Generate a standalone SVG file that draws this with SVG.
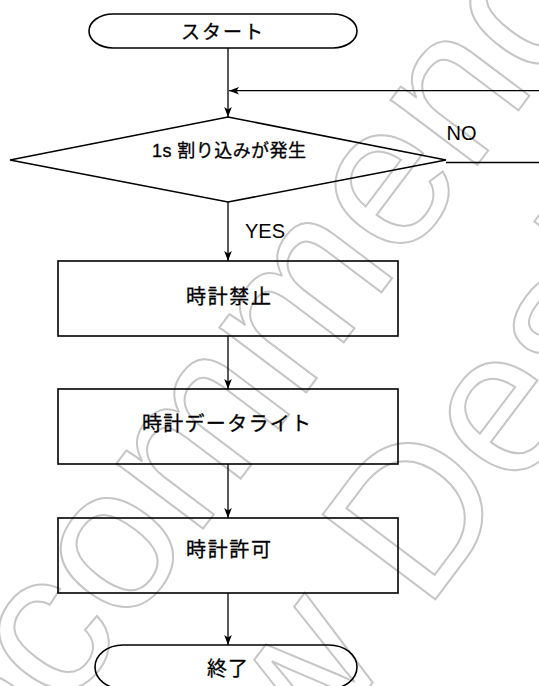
<svg xmlns="http://www.w3.org/2000/svg" width="539" height="686" viewBox="0 0 539 686">
<style>
.shape{fill:none;stroke:#000;stroke-width:1.6}
.conn{fill:none;stroke:#000;stroke-width:1.3}
.t{font-family:"Liberation Sans","Noto Sans CJK JP",sans-serif;fill:#000;stroke:#000;stroke-width:0.3;text-anchor:middle}
.lbl{font-family:"Liberation Sans",Arial,sans-serif;fill:#000;font-size:20px}
.wm{font-family:"Liberation Sans",Arial,sans-serif;font-size:205px;fill:none;stroke:#c6c6c6;stroke-width:2}
</style>
<defs>
<marker id="arr" markerUnits="userSpaceOnUse" markerWidth="14" markerHeight="12" viewBox="-11 -6 12 12" refX="0" refY="0" orient="auto">
<path d="M0,0 L-10,-3.8 L-7.5,0 L-10,3.8 Z" fill="#000"/>
</marker>
</defs>
<rect width="539" height="686" fill="#fff"/>
<g id="watermark" transform="translate(160,586) rotate(-53)">
<text class="wm" x="-797" y="0">Not Recommended</text>
<text class="wm" x="-625" y="228">for New Design</text>
</g>
<g id="connectors">
<path class="conn" d="M228,48 V117" marker-end="url(#arr)"/>
<path class="conn" d="M539,90.7 H229" marker-end="url(#arr)"/>
<path class="conn" d="M446,162.5 H539"/>
<path class="conn" d="M228,202 V261" marker-end="url(#arr)"/>
<path class="conn" d="M228,336 V389" marker-end="url(#arr)"/>
<path class="conn" d="M228,464 V518" marker-end="url(#arr)"/>
<path class="conn" d="M228,593 V645" marker-end="url(#arr)"/>
<text class="lbl" x="245" y="238">YES</text>
<text class="lbl" x="446.5" y="140">NO</text>
</g>
<g id="start">
<path class="shape" d="M113,14 H333 A24,17 0 0 1 333,48 H113 A24,17 0 0 1 113,14 Z"/>
<text class="t" x="222" y="39" font-size="19" textLength="82" lengthAdjust="spacing">スタート</text>
</g>
<g id="decision">
<polygon class="shape" points="228,117 446,160 228,202 10,160"/>
<text class="t" x="229" y="157" font-size="18" textLength="154" lengthAdjust="spacing">1s 割り込みが発生</text>
</g>
<g id="clock-disable">
<rect class="shape" x="58" y="261" width="340" height="75"/>
<text class="t" x="228.5" y="304" font-size="20" textLength="85" lengthAdjust="spacing">時計禁止</text>
</g>
<g id="clock-write">
<rect class="shape" x="58" y="389" width="340" height="75"/>
<text class="t" x="226.5" y="431" font-size="20" textLength="169" lengthAdjust="spacing">時計データライト</text>
</g>
<g id="clock-enable">
<rect class="shape" x="58" y="518" width="340" height="75"/>
<text class="t" x="228.5" y="557" font-size="20" textLength="85" lengthAdjust="spacing">時計許可</text>
</g>
<g id="end">
<path class="shape" d="M123,645 H329 A28,22 0 0 1 329,689 H123 A28,22 0 0 1 123,645 Z"/>
<text class="t" x="227.5" y="676" font-size="20" textLength="41" lengthAdjust="spacing">終了</text>
</g>
</svg>
